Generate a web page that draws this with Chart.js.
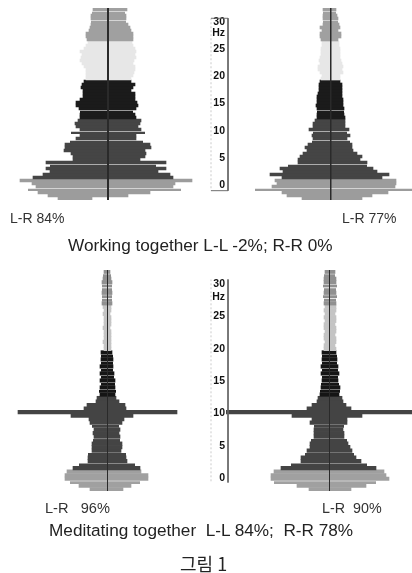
<!DOCTYPE html>
<html>
<head>
<meta charset="utf-8">
<script src="https://cdn.jsdelivr.net/npm/chart.js@4"></script>
<style>
    html, body { margin: 0; padding: 0; background: #fff; }
    body { position: relative; width: 412px; height: 573px; overflow: hidden; font-family: "Liberation Sans", Arial, sans-serif; }
    canvas { position: absolute; filter: blur(0.7px); }
    .txt { position: absolute; white-space: pre; color: #333; filter: blur(0.35px); }
</style>
</head>
<body>
<canvas id="tl"></canvas>
<canvas id="tr"></canvas>
<canvas id="bl"></canvas>
<canvas id="br"></canvas>
<canvas id="axisTop"></canvas>
<canvas id="axisBottom"></canvas>
<div class="txt" style="left:10px;top:210px;font-size:14px">L-R 84%</div>
<div class="txt" style="left:342px;top:210px;font-size:14px">L-R 77%</div>
<div class="txt" style="left:68px;top:235px;font-size:17.2px;color:#222">Working together L-L -2%; R-R 0%</div>
<div class="txt" style="left:45px;top:500px;font-size:14.6px">L-R   96%</div>
<div class="txt" style="left:322px;top:500px;font-size:14.3px">L-R  90%</div>
<div class="txt" style="left:49px;top:520px;font-size:17.2px;color:#222">Meditating together  L-L 84%;  R-R 78%</div>
<div class="txt" style="left:180px;top:550px;font-size:18px;color:#222;font-family:'Noto Sans CJK KR'">그림 1</div>
<script>
// half widths of every row, bottom row first (0 Hz upwards)
const tlLeft = [50, 60, 70, 80, 72, 76, 88, 75, 65, 58, 62, 58, 62, 35, 35, 37, 44, 43, 43, 38, 32, 28, 37, 28, 32, 33, 30, 28, 28, 28, 29, 32, 32, 28, 25, 25, 25, 27, 26, 24, 22, 22, 22, 22, 24, 26, 28, 27, 26, 28, 24, 22, 20, 21, 22, 22, 19, 18, 17, 17, 17, 17, 16, 15];
const tlRight = [-16, 20, 42, 73, 65, 67, 84, 65, 62, 50, 58, 48, 58, 32, 37, 38, 37, 43, 42, 35, 28, 28, 37, 33, 30, 32, 33, 28, 27, 25, 28, 30, 29, 27, 27, 27, 23, 25, 27, 23, 23, 25, 26, 27, 27, 25, 26, 28, 27, 28, 27, 25, 24, 25, 25, 25, 23, 22, 20, 18, 18, 18, 17, 19];
const trLeft = [29, 44, 49, 76, 59, 54, 56, 49, 61, 48, 51, 43, 33, 33, 31, 28, 24, 26, 23, 19, 18, 19, 18, 22, 18, 18, 16, 14, 14, 14, 14, 15, 14, 14, 14, 13, 12, 12, 12, 11, 10, 9, 11, 13, 13, 11, 12, 11, 10, 10, 10, 9, 9, 10, 11, 11, 9, 11, 8, 8, 8, 8, 8, 8];
const trRight = [31, 41, 57, 81, 64, 65, 65, 51, 58, 46, 42, 36, 36, 29, 31, 26, 22, 21, 21, 19, 16, 19, 16, 18, 14, 14, 14, 14, 13, 13, 13, 12, 12, 12, 11, 11, 11, 11, 11, 9, 9, 9, 12, 11, 12, 11, 10, 9, 9, 9, 9, 8, 8, 7, 10, 10, 7, 9, 8, 7, 7, 6, 5, 5];
const blLeft = [17, 28, 37, 42, 42, 40, 34, 28, 19, 19, 19, 15, 15, 15, 14, 13, 14, 13, 15, 17, 18, 36, 89, 23, 20, 11, 10, 7, 8, 7, 6, 7, 6, 7, 6, 7, 6, 6, 6, 6, 3, 3, 4, 3, 3, 3, 4, 3, 3, 3, 4, 3, 4, 5, 5, 5, 5, 5, 5, 5, 4, 4, 3];
const blRight = [16, 24, 33, 41, 41, 34, 33, 28, 20, 19, 19, 14, 15, 15, 13, 13, 12, 13, 12, 15, 17, 26, 70, 19, 18, 12, 9, 8, 9, 8, 8, 8, 7, 7, 6, 6, 6, 6, 6, 5, 4, 4, 4, 4, 4, 4, 3, 4, 4, 4, 3, 4, 4, 5, 5, 5, 5, 5, 5, 5, 4, 4, 3];
const brLeft = [21, 33, 56, 59, 59, 56, 49, 39, 29, 29, 25, 23, 20, 20, 19, 16, 16, 16, 16, 20, 18, 38, 104, 23, 18, 13, 12, 10, 10, 9, 9, 8, 8, 9, 8, 9, 8, 8, 8, 8, 6, 6, 5, 6, 6, 5, 6, 6, 5, 6, 5, 6, 5, 6, 6, 7, 6, 6, 7, 6, 6, 6, 5];
const brRight = [21, 36, 46, 59, 56, 54, 46, 37, 31, 26, 24, 22, 20, 18, 17, 14, 14, 13, 14, 17, 17, 32, 82, 21, 16, 13, 12, 9, 10, 10, 9, 8, 8, 9, 8, 8, 7, 7, 7, 6, 6, 5, 6, 6, 5, 6, 6, 5, 6, 6, 5, 6, 6, 6, 6, 7, 6, 6, 7, 6, 6, 5, 5];

const topGaps = [3, 11, 19, 22, 29, 59, 62];
const bottomGaps = [2, 7, 10, 14, 18, 28, 30, 32, 34, 36, 38, 54, 55, 57, 58, 61];

const hzValues = [0, 5, 10, 15, 20, 25, 28, 30];
const hzLabels = ['0', '5', '10', '15', '20', '25', 'Hz', '30'];

// grey of each band: up to 3 Hz, 3-13 Hz, 13-20 Hz, 20-26 Hz, above
function rowColor(i, limits, greys) {
    for (let b = 0; b < limits.length; b++) {
        if (i < limits[b]) return greys[b];
    }
    return greys[greys.length - 1];
}

function place(canvas, left, top, width, height) {
    canvas.width = width;
    canvas.height = height;
    canvas.style.left = left + 'px';
    canvas.style.top = top + 'px';
}

function drawPanel(id, left, right, gaps, box, greys, limits, lineWidth) {
    const canvas = document.getElementById(id);
    place(canvas, box.left, box.top, box.width, box.height);
    new Chart(canvas.getContext('2d'), {
        type: 'bar',
        data: {
            labels: left.map((_, i) => String(i / 2)),
            datasets: [{
                data: left.map((v, i) => [-v, right[i]]),
                backgroundColor: left.map((_, i) => rowColor(i, limits, greys)),
                borderColor: '#fff',
                borderSkipped: false,
                borderWidth: ctx => gaps.includes(ctx.dataIndex)
                    ? { top: 1, right: 0, bottom: 0, left: 0 } : 0,
                barPercentage: 1,
                categoryPercentage: 1
            }]
        },
        options: {
            indexAxis: 'y',
            responsive: false,
            animation: false,
            layout: { padding: 0 },
            plugins: { legend: { display: false }, tooltip: { enabled: false } },
            scales: {
                x: {
                    min: box.min,
                    max: box.max,
                    afterBuildTicks: s => { s.ticks = [{ value: 0 }]; },
                    afterFit: s => { s.height = 0; },
                    ticks: { display: false },
                    border: { display: false },
                    grid: { z: 1, color: '#2a2a2a', lineWidth: lineWidth, drawTicks: false }
                },
                y: { display: false, reverse: true }
            }
        }
    });
}

function drawAxis(id, box, yMin, yMax, axisLine, dashLine) {
    const canvas = document.getElementById(id);
    place(canvas, box.left, box.top, box.width, box.height);
    new Chart(canvas.getContext('2d'), {
        type: 'line',
        data: {
            datasets: [
                { data: axisLine, borderColor: '#666', borderWidth: 1, pointRadius: 0 },
                { data: dashLine, borderColor: '#ccc', borderWidth: 1, borderDash: [2, 2], pointRadius: 0 }
            ]
        },
        options: {
            responsive: false,
            animation: false,
            layout: { padding: 0 },
            plugins: { legend: { display: false }, tooltip: { enabled: false } },
            scales: {
                x: { type: 'linear', display: false, min: 0, max: box.width },
                y: {
                    position: { x: 19 },
                    min: yMin,
                    max: yMax,
                    afterBuildTicks: s => { s.ticks = hzValues.map(v => ({ value: v })); },
                    border: { display: false },
                    grid: { display: false },
                    ticks: {
                        color: '#111',
                        font: { family: 'Liberation Sans', size: 10.5, weight: 'bold' },
                        callback: v => hzLabels[hzValues.indexOf(v)]
                    }
                }
            }
        }
    });
}

const topGreys = ['#9c9c9c', '#454545', '#1b1b1b', '#e7e7e7', '#a0a0a0'];
const bottomGreys = ['#a0a0a0', '#444', '#151515', '#c4c4c4', '#909090'];

drawPanel('tl', tlLeft, tlRight, topGaps, { left: 0, top: 8, width: 206, height: 192, min: -108, max: 98 }, topGreys, [7, 27, 40, 53], 2);
drawPanel('tr', trLeft, trRight, topGaps, { left: 220, top: 8, width: 192, height: 192, min: -111, max: 81 }, topGreys, [7, 27, 40, 53], 1.5);
drawPanel('bl', blLeft, blRight, bottomGaps, { left: 0, top: 270, width: 206, height: 221, min: -107, max: 99 }, bottomGreys, [6, 27, 40, 53], 1);
drawPanel('br', brLeft, brRight, bottomGaps, { left: 226, top: 270, width: 186, height: 221, min: -104, max: 82 }, bottomGreys, [6, 27, 40, 53], 1);

drawAxis('axisTop', { left: 206, top: 8, width: 26, height: 193 }, -1.18, 30.83,
    [{ x: 5, y: 30.66 }, { x: 22, y: 30.66 }, { x: 22, y: -1 }, { x: 5, y: -1 }],
    [{ x: 5, y: 30.66 }, { x: 5, y: -1 }]);
drawAxis('axisBottom', { left: 206, top: 270, width: 26, height: 222 }, -0.71, 30.71,
    [{ x: 22, y: 30.71 }, { x: 22, y: -0.71 }],
    [{ x: 5, y: 30.71 }, { x: 5, y: -0.71 }]);
</script>
</body>
</html>
